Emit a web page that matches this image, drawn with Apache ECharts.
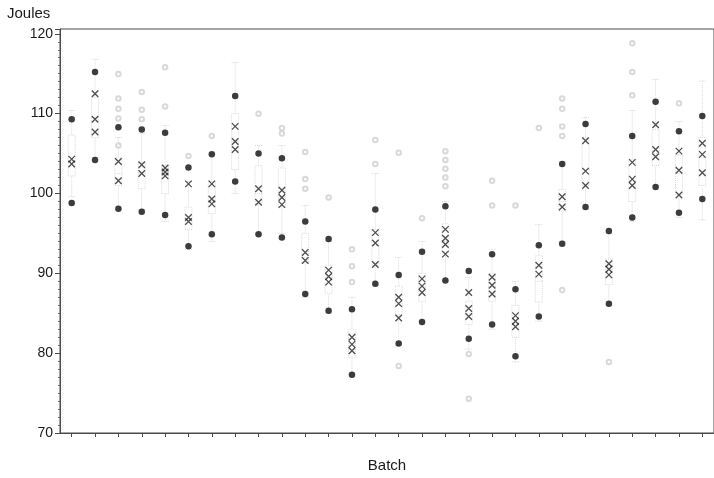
<!DOCTYPE html>
<html>
<head>
<meta charset="utf-8">
<script src="https://cdn.jsdelivr.net/npm/echarts@6/dist/echarts.min.js"></script>
<style>
html,body{margin:0;padding:0;background:#fff;}
#chart{width:714px;height:478px;}
</style>
</head>
<body>
<div id="chart"></div>
<script>
// ---- data ----
var batches = ['1','2','3','4','5','6','7','8','9','10','11','12','13','14','15','16','17','18','19','20','21','22','23','24','25','26','27','28'];
var yTicks = [70, 80, 90, 100, 110, 120];
var upperDots = [109.3, 115.2, 108.3, 108, 107.6, 103.25, 104.9, 112.2, 105, 104.4, 96.5, 94.3, 85.5, 98, 89.8, 92.7, 98.4, 90.3, 92.4, 88, 93.5, 103.7, 108.7, 95.3, 107.2, 111.5, 107.8, 109.7];
var lowerDots = [98.8, 104.2, 98.1, 97.7, 97.3, 93.4, 94.9, 101.5, 94.9, 94.5, 87.4, 85.3, 77.3, 88.7, 81.2, 83.9, 89.1, 81.8, 83.6, 79.6, 84.6, 93.7, 98.3, 86.2, 97, 100.8, 97.6, 99.3];
var xMarks = [
  [104.3, 103.7], [112.5, 109.3, 107.7], [104, 101.6], [103.6, 102.5], [103.2, 102.7, 102.2],
  [101.2, 97, 96.5], [101.2, 99.3, 98.7], [108.4, 106.5, 105.5], [100.6, 98.9], [100.4, 99.5, 98.6],
  [92.6, 91.6], [90.4, 89.6, 88.9], [82, 81.1, 80.3], [95.1, 93.8, 91.1], [87, 86.2, 84.4],
  [89.3, 88.4, 87.6], [95.5, 94.4, 93.6, 92.4], [87.6, 85.6, 84.6], [89.5, 88.5, 87.4], [84.7, 84, 83.3],
  [91, 89.9], [99.6, 98.3], [106.6, 102.8, 101], [91.2, 90.5, 89.8], [103.9, 101.8, 101],
  [108.6, 105.5, 104.6], [105.3, 102.9, 99.8], [106.3, 104.9, 102.6]
];
var outliers = [
  [], [], [114.95, 111.9, 110.6, 109.4, 106], [112.7, 110.5, 109.3], [115.8, 110.9],
  [104.7], [107.2], [], [110], [108.2, 107.5],
  [105.2, 101.8, 100.6], [99.5], [93, 90.9, 88.9], [106.7, 103.7], [105.1, 78.4],
  [96.9], [105.3, 104.2, 103.1, 102, 100.9], [79.9, 74.3], [101.6, 98.5], [98.5],
  [108.2], [111.9, 110.6, 108.4, 107.2, 87.9], [], [78.9], [118.8, 115.2, 112.3],
  [], [111.3], []
];
var whiskerLow  = [99.6, 104.5, 98, 98, 96.5, 93, 94, 100, 95, 95, 87, 85, 77, 88.5, 81, 84, 89, 80.5, 83, 78.9, 84, 94, 98, 86, 96.5, 101, 97, 96.7];
var boxQ1       = [102.2, 107, 101, 100.6, 100, 95.5, 97.5, 103, 98.7, 98.4, 91.3, 87.5, 79.5, 91, 84.8, 86.5, 92.7, 83.6, 86.5, 82, 86.4, 97.8, 101, 88.6, 99, 103.5, 99.9, 101];
var boxMedian   = [104, 109.5, 102.5, 102.5, 102, 96.7, 99, 106.5, 100, 99.5, 92, 89.5, 81, 93.5, 86, 88.3, 94, 85, 88.3, 83.8, 89, 99, 103, 90.5, 101.5, 105, 102.5, 104.5];
var boxQ3       = [107.3, 112, 104.5, 103.9, 103.5, 98.3, 101.5, 110, 103.5, 103.2, 95, 91, 83, 95.5, 88.4, 90, 96.2, 86.5, 90, 86, 92.2, 100.5, 107, 91.8, 104.2, 108, 104.8, 107];
var whiskerHigh = [110.4, 116.8, 107, 107.5, 108.5, 101.5, 105, 116.4, 106, 106, 98.5, 94, 87, 102.5, 92, 94, 99, 89.5, 93, 89, 96.1, 104, 109.5, 95, 110.4, 114.3, 109, 114.1];

// ---- build series data ----
var boxData = batches.map(function (b, i) {
  return [whiskerLow[i], boxQ1[i], boxMedian[i], boxQ3[i], whiskerHigh[i]];
});
var upperData = upperDots.map(function (v, i) { return [i, v]; });
var lowerData = lowerDots.map(function (v, i) { return [i, v]; });
var xData = [];
xMarks.forEach(function (arr, i) { arr.forEach(function (v) { xData.push([i, v]); }); });
var outData = [];
outliers.forEach(function (arr, i) { arr.forEach(function (v) { outData.push([i, v]); }); });

var chart = echarts.init(document.getElementById('chart'));
var font = 'Liberation Sans, Arial, Helvetica, sans-serif';
chart.setOption({
  animation: false,
  backgroundColor: '#ffffff',
  graphic: [{
    type: 'text', left: 7, top: 6,
    style: { text: 'Joules', font: '15px ' + font, fill: '#1a1a1a' }
  }],
  grid: {
    left: 60, top: 29, width: 658, height: 413,
    show: true, borderColor: '#4a4a4a', borderWidth: 1, backgroundColor: 'transparent'
  },
  xAxis: {
    type: 'category',
    data: batches,
    boundaryGap: true,
    name: 'Batch',
    nameLocation: 'middle',
    nameGap: 25,
    nameTextStyle: { fontFamily: font, fontSize: 15, color: '#1a1a1a' },
    axisLine: { lineStyle: { color: '#4a4a4a', width: 1 } },
    axisTick: { show: true, alignWithLabel: true, length: 4, lineStyle: { color: '#4a4a4a' } },
    axisLabel: { show: false },
    splitLine: { show: false }
  },
  yAxis: {
    type: 'value',
    min: yTicks[0],
    max: 120.6,
    interval: 10,
    axisLine: { show: true, lineStyle: { color: '#4a4a4a', width: 1 } },
    axisTick: { show: true, length: 5, lineStyle: { color: '#4a4a4a' } },
    minorTick: { show: true, splitNumber: 10, length: 2, lineStyle: { color: '#6a6a6a' } },
    axisLabel: {
      margin: 7,
      fontFamily: font, fontSize: 14, color: '#1a1a1a',
      formatter: function (v) { return yTicks.indexOf(Math.round(v * 10) / 10) >= 0 ? String(v) : ''; }
    },
    splitLine: { show: false }
  },
  series: [
    {
      type: 'boxplot',
      data: boxData,
      boxWidth: [7, 7],
      itemStyle: { color: 'transparent', borderColor: '#dadada', borderWidth: 1, borderType: 'dotted' },
      emphasis: { disabled: true },
      z: 1
    },
    {
      type: 'scatter',
      data: outData,
      symbol: 'emptyCircle',
      symbolSize: 4.5,
      itemStyle: { color: '#d0d0d0', borderColor: '#d0d0d0', borderWidth: 1 },
      z: 2
    },
    {
      type: 'scatter',
      data: xData,
      symbol: 'path://M0,0L10,10M10,0L0,10',
      symbolSize: 6.5,
      itemStyle: { color: 'transparent', borderColor: '#222222', borderWidth: 1.3 },
      z: 3
    },
    {
      type: 'scatter',
      data: upperData,
      symbol: 'circle',
      symbolSize: 6.5,
      itemStyle: { color: '#0d0d0d' },
      z: 4
    },
    {
      type: 'scatter',
      data: lowerData,
      symbol: 'circle',
      symbolSize: 6.5,
      itemStyle: { color: '#0d0d0d' },
      z: 4
    }
  ]
});
</script>
</body>
</html>
